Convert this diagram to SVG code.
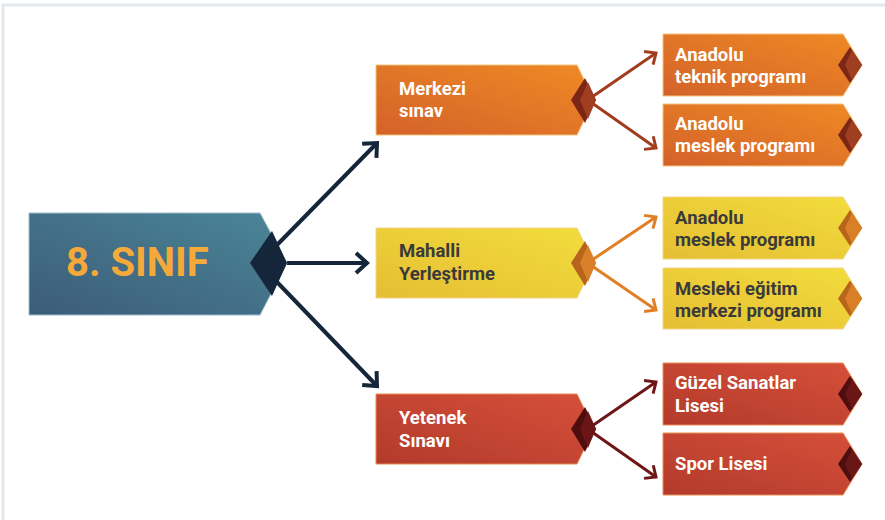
<svg xmlns="http://www.w3.org/2000/svg" width="885" height="520" viewBox="0 0 885 520">
<defs>
<linearGradient id="gBlue" x1="0" y1="1" x2="1" y2="0"><stop offset="0" stop-color="#3c5c77"/><stop offset="1" stop-color="#4b8698"/></linearGradient>
<linearGradient id="gOrange" x1="0" y1="1" x2="1" y2="0"><stop offset="0" stop-color="#d3622a"/><stop offset="1" stop-color="#f08a24"/></linearGradient>
<linearGradient id="gYellow" x1="0" y1="1" x2="1" y2="0"><stop offset="0" stop-color="#e5be33"/><stop offset="1" stop-color="#f3dd3d"/></linearGradient>
<linearGradient id="gRed" x1="0" y1="1" x2="1" y2="0"><stop offset="0" stop-color="#b33a2b"/><stop offset="1" stop-color="#d6503a"/></linearGradient>
<marker id="mNavy" markerUnits="userSpaceOnUse" viewBox="-16 -14 20 28" markerWidth="20" markerHeight="28" refX="0" refY="0" orient="auto"><path d="M-11,-10 L0,0 L-11,10" fill="none" stroke="#15263a" stroke-width="4"/></marker>
<marker id="mBrown" markerUnits="userSpaceOnUse" viewBox="-16 -14 20 28" markerWidth="20" markerHeight="28" refX="0" refY="0" orient="auto"><path d="M-9,-8 L0,0 L-9,8" fill="none" stroke="#a23c1f" stroke-width="3"/></marker>
<marker id="mOrange" markerUnits="userSpaceOnUse" viewBox="-16 -14 20 28" markerWidth="20" markerHeight="28" refX="0" refY="0" orient="auto"><path d="M-9,-8 L0,0 L-9,8" fill="none" stroke="#e07f25" stroke-width="3"/></marker>
<marker id="mRed" markerUnits="userSpaceOnUse" viewBox="-16 -14 20 28" markerWidth="20" markerHeight="28" refX="0" refY="0" orient="auto"><path d="M-9,-8 L0,0 L-9,8" fill="none" stroke="#6e1616" stroke-width="3"/></marker>
</defs>
<style>
text{font-family:Roboto,"Liberation Sans",sans-serif;font-weight:bold;font-size:18.5px}
.w{fill:#ffffff}
.d{fill:#3a3a3a}
.bo{fill:url(#gOrange);stroke:#f6c27d;stroke-width:1}
.by{fill:url(#gYellow);stroke:#f3d486;stroke-width:1}
.br{fill:url(#gRed);stroke:#e98d55;stroke-width:1}
.od1{fill:#7c2615}.od2{fill:#9f3e21}
.yd1{fill:#b8651c}.yd2{fill:#d97f28}
.rd1{fill:#4f0e0e}.rd2{fill:#6b1616}
.cn line{fill:none}
</style>
<rect x="0" y="0" width="885" height="520" fill="#ffffff"/>
<path d="M3,520 V5 H885" fill="none" stroke="#e2e9ee" stroke-width="3"/>

<g id="connectors" class="cn">
<line x1="276" y1="246" x2="377" y2="143" stroke="#15263a" stroke-width="4" marker-end="url(#mNavy)"/>
<line x1="287" y1="263" x2="367" y2="263" stroke="#15263a" stroke-width="4" marker-end="url(#mNavy)"/>
<line x1="276" y1="281" x2="377" y2="386" stroke="#15263a" stroke-width="4" marker-end="url(#mNavy)"/>
<line x1="592" y1="97" x2="656" y2="53" stroke="#a23c1f" stroke-width="3" marker-end="url(#mBrown)"/>
<line x1="592" y1="103" x2="656" y2="148" stroke="#a23c1f" stroke-width="3" marker-end="url(#mBrown)"/>
<line x1="592" y1="260" x2="656" y2="217" stroke="#e07f25" stroke-width="3" marker-end="url(#mOrange)"/>
<line x1="592" y1="266" x2="656" y2="310" stroke="#e07f25" stroke-width="3" marker-end="url(#mOrange)"/>
<line x1="592" y1="426" x2="656" y2="382" stroke="#6e1616" stroke-width="3" marker-end="url(#mRed)"/>
<line x1="592" y1="432" x2="656" y2="477" stroke="#6e1616" stroke-width="3" marker-end="url(#mRed)"/>
</g>

<g id="node-8sinif">
<polygon points="29,213 260,213 287,263 260,315 29,315" fill="url(#gBlue)" stroke="#9cbccb" stroke-width="1"/>
<polygon points="250,263 272,231 287,263 272,296" fill="#15263a"/>
<text x="66" y="276" style="font-size:40px;fill:#f5a93b">8. SINIF</text>
</g>

<g id="node-merkezi">
<polygon class="bo" points="376,65 577,65 594,100 577,135 376,135"/>
<polygon class="od1" points="571,100 585,78 596,100 585,123"/>
<polygon class="od2" points="580,100 588,82 596,100 588,119"/>
<text class="w" x="399" y="95">Merkezi</text>
<text class="w" x="399" y="117">sınav</text>
</g>

<g id="node-mahalli">
<polygon class="by" points="376,228 577,228 594,263 577,298 376,298"/>
<polygon class="yd1" points="571,263 585,241 596,263 585,286"/>
<polygon class="yd2" points="580,263 588,245 596,263 588,282"/>
<text class="d" x="399" y="257">Mahalli</text>
<text class="d" x="399" y="280">Yerleştirme</text>
</g>

<g id="node-yetenek">
<polygon class="br" points="376,394 577,394 594,429 577,464 376,464"/>
<polygon class="rd1" points="571,429 585,407 596,429 585,452"/>
<polygon class="rd2" points="580,429 588,411 596,429 588,448"/>
<text class="w" x="399" y="424">Yetenek</text>
<text class="w" x="399" y="447">Sınavı</text>
</g>

<g id="node-anadolu-teknik">
<polygon class="bo" points="663,34 843,34 862,65 843,96 663,96"/>
<polygon class="od1" points="838,65 850,47 862,65 850,83"/>
<polygon class="od2" points="845,65 852,50 862,65 852,80"/>
<text class="w" x="675" y="61">Anadolu</text>
<text class="w" x="675" y="83">teknik programı</text>
</g>

<g id="node-anadolu-meslek-1">
<polygon class="bo" points="663,104 843,104 862,135 843,166 663,166"/>
<polygon class="od1" points="838,135 850,117 862,135 850,153"/>
<polygon class="od2" points="845,135 852,120 862,135 852,150"/>
<text class="w" x="675" y="130">Anadolu</text>
<text class="w" x="675" y="152">meslek programı</text>
</g>

<g id="node-anadolu-meslek-2">
<polygon class="by" points="663,197 843,197 862,228 843,259 663,259"/>
<polygon class="yd1" points="838,228 850,210 862,228 850,246"/>
<polygon class="yd2" points="845,228 852,213 862,228 852,243"/>
<text class="d" x="675" y="224">Anadolu</text>
<text class="d" x="675" y="246">meslek programı</text>
</g>

<g id="node-mesleki-egitim">
<polygon class="by" points="663,268 843,268 862,298.5 843,329 663,329"/>
<polygon class="yd1" points="838,298.5 850,280.5 862,298.5 850,316.5"/>
<polygon class="yd2" points="845,298.5 852,283.5 862,298.5 852,313.5"/>
<text class="d" x="675" y="295">Mesleki eğitim</text>
<text class="d" x="675" y="317">merkezi programı</text>
</g>

<g id="node-guzel-sanatlar">
<polygon class="br" points="663,363 843,363 862,394 843,425 663,425"/>
<polygon class="rd1" points="838,394 850,376 862,394 850,412"/>
<polygon class="rd2" points="845,394 852,379 862,394 852,409"/>
<text class="w" x="675" y="389">Güzel Sanatlar</text>
<text class="w" x="675" y="412">Lisesi</text>
</g>

<g id="node-spor">
<polygon class="br" points="663,433 843,433 862,464 843,495 663,495"/>
<polygon class="rd1" points="838,464 850,446 862,464 850,482"/>
<polygon class="rd2" points="845,464 852,449 862,464 852,479"/>
<text class="w" x="675" y="470">Spor Lisesi</text>
</g>
</svg>
